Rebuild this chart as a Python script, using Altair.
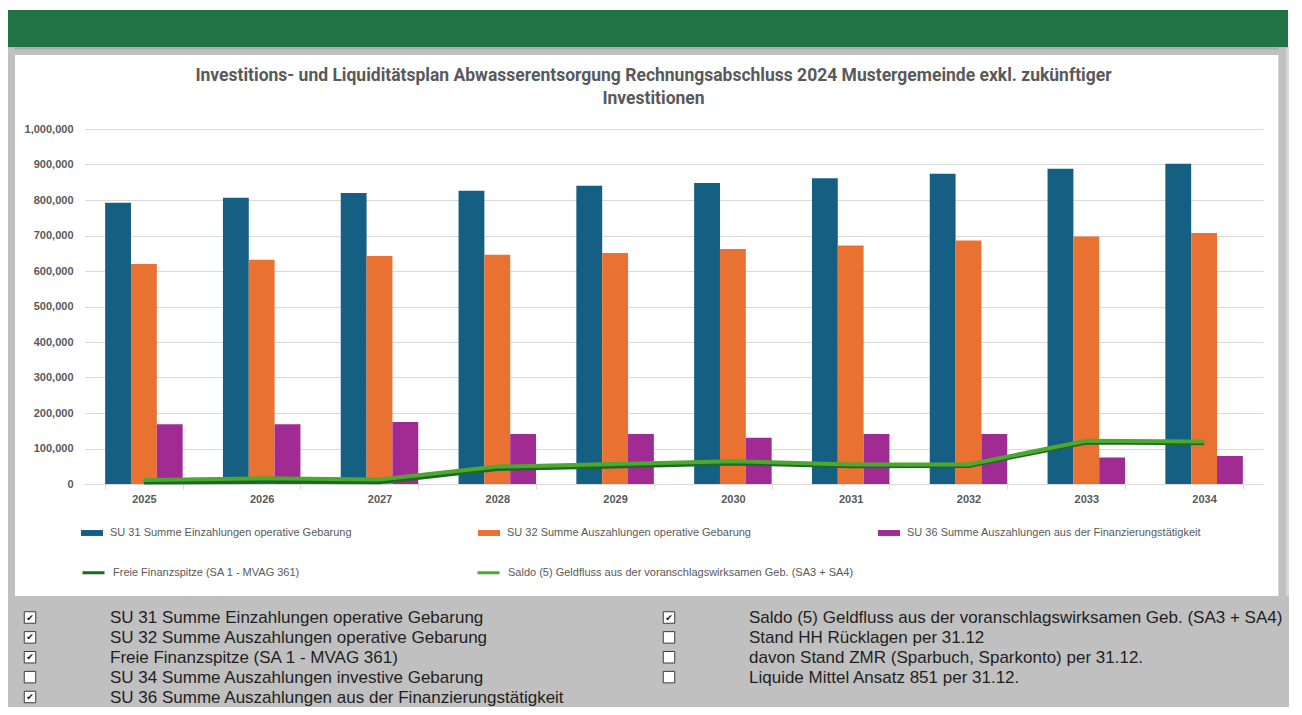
import altair as alt
import pandas as pd

# ---------------- data ----------------
years = ["2025", "2026", "2027", "2028", "2029", "2030", "2031", "2032", "2033", "2034"]
su31 = [792000, 806000, 820000, 826000, 840000, 848000, 861000, 874000, 888000, 902000]
su32 = [620000, 632000, 642000, 646000, 651000, 662000, 672000, 686000, 697000, 707000]
su36 = [168000, 168000, 175000, 141000, 141000, 130000, 141000, 141000, 75000, 79000]
freie_finanzspitze = [4000, 6000, 5000, 42000, 49000, 58000, 50000, 51000, 117000, 115000]
saldo = [11000, 16000, 13000, 49000, 56000, 64000, 55000, 55000, 122000, 120000]

bar_series = [
    "SU 31 Summe Einzahlungen operative Gebarung",
    "SU 32 Summe Auszahlungen operative Gebarung",
    "SU 36 Summe Auszahlungen aus der Finanzierungstätigkeit",
]
line_series = [
    "Freie Finanzspitze (SA 1 - MVAG 361)",
    "Saldo (5) Geldfluss aus der voranschlagswirksamen Geb. (SA3 + SA4)",
]
bar_colors = ["#156082", "#E97132", "#A02B93"]
line_colors = ["#196B24", "#4EA72E"]
y_ticks = [0, 100000, 200000, 300000, 400000, 500000, 600000, 700000, 800000, 900000, 1000000]

title_lines = [
    "Investitions- und Liquiditätsplan Abwasserentsorgung Rechnungsabschluss 2024 Mustergemeinde exkl. zukünftiger",
    "Investitionen",
]

checkbox_labels = [
    "SU 31 Summe Einzahlungen operative Gebarung",
    "SU 32 Summe Auszahlungen operative Gebarung",
    "Freie Finanzspitze (SA 1 - MVAG 361)",
    "SU 34 Summe Auszahlungen investive Gebarung",
    "SU 36 Summe Auszahlungen aus der Finanzierungstätigkeit",
    "Saldo (5) Geldfluss aus der voranschlagswirksamen Geb. (SA3 + SA4)",
    "Stand HH Rücklagen per 31.12",
    "davon Stand ZMR (Sparbuch, Sparkonto) per 31.12.",
    "Liquide Mittel Ansatz 851 per 31.12.",
]
checkbox_checked = [True, True, True, False, True, True, False, False, False]
checkbox_column = [0, 0, 0, 0, 0, 1, 1, 1, 1]
checkbox_row = [0, 1, 2, 3, 4, 0, 1, 2, 3]

# ---------------- tables ----------------
bars_df = pd.DataFrame({
    "Jahr": years * 3,
    "Reihe": [bar_series[0]] * 10 + [bar_series[1]] * 10 + [bar_series[2]] * 10,
    "Wert": su31 + su32 + su36,
})
lines_df = pd.DataFrame({
    "Jahr": years * 2,
    "Reihe": [line_series[0]] * 10 + [line_series[1]] * 10,
    "Wert": freie_finanzspitze + saldo,
})
cb_df = pd.DataFrame({
    "Label": checkbox_labels,
    "Aktiv": checkbox_checked,
    "Spalte": checkbox_column,
    "Zeile": checkbox_row,
})
one = pd.DataFrame({"k": [0]})

# ---------------- styling ----------------
TITLE_FONT = "Roboto"
ARIAL = "Liberation Sans, Arial, sans-serif"
GREY = "#595959"
OX, OY = 85, 129  # page position of plot origin

x_enc = alt.X(
    "Jahr:N", sort=years,
    scale=alt.Scale(paddingInner=0.342, paddingOuter=0.171),
    axis=alt.Axis(title=None, labelAngle=0, domainColor="#d9d9d9", tickColor="#d9d9d9",
                  tickSize=5, tickBand="extent", labelPadding=4, labelFont=ARIAL,
                  labelFontSize=11, labelFontWeight="bold", labelColor=GREY, grid=False),
)
y_enc = alt.Y(
    "Wert:Q",
    scale=alt.Scale(domain=[0, 1000000], nice=False),
    axis=alt.Axis(title=None, values=y_ticks, format=",.0f", grid=True, gridColor="#d9d9d9",
                  domain=False, ticks=False, labelPadding=12, labelFont=ARIAL,
                  labelFontSize=11, labelFontWeight="bold", labelColor=GREY),
)

bar_legend = alt.Legend(
    orient="none", legendX=-4, legendY=393, title=None, columns=3, columnPadding=126,
    gridAlign="each", symbolType="M-1,-0.27H1V0.27H-1Z", symbolSize=484, symbolStrokeWidth=0,
    labelOffset=7, labelLimit=500, labelFont=ARIAL, labelFontSize=11, labelColor=GREY,
)
line_legend = alt.Legend(
    orient="none", legendX=-4, legendY=431, title=None, columns=3, columnPadding=171,
    gridAlign="each", symbolType="stroke", symbolSize=484, symbolStrokeWidth=3,
    labelOffset=7, labelLimit=500, labelFont=ARIAL, labelFontSize=11, labelColor=GREY,
)

bars = alt.Chart(bars_df).mark_bar(strokeWidth=0).encode(
    x=x_enc,
    xOffset=alt.XOffset("Reihe:N", sort=bar_series),
    y=y_enc,
    fill=alt.Fill("Reihe:N", scale=alt.Scale(domain=bar_series, range=bar_colors), legend=bar_legend),
)

stroke_enc = alt.Stroke("Reihe:N", scale=alt.Scale(domain=line_series, range=line_colors), legend=line_legend)
line_dark = alt.Chart(lines_df).transform_filter(
    alt.datum.Reihe == line_series[0]
).mark_line(strokeWidth=4).encode(x=x_enc, y=y_enc, stroke=stroke_enc)
line_light = alt.Chart(lines_df).transform_filter(
    alt.datum.Reihe == line_series[1]
).mark_line(strokeWidth=4).encode(x=x_enc, y=y_enc, stroke=stroke_enc)

main = alt.layer(bars, line_dark, line_light)

# ---------------- frame decoration ----------------
BOTTOM = 707  # page y of the drawing's bottom edge


def deco(x1, x2, y1, y2, color):
    return alt.Chart(one).mark_rect(color=color, strokeWidth=0).encode(
        x=alt.value(x1 - OX), x2=alt.value(x2 - OX),
        y=alt.value(y1 - OY), y2=alt.value(y2 - OY),
    )


frame = [
    deco(8, 1288, 10, 47.5, "#217346"),
    deco(8, 1289, 47.5, 55, "#c0c0c0"),
    deco(8, 1289, 47.5, 49.5, "#a8a8a8"),
    deco(8, 15, 47.5, BOTTOM, "#c0c0c0"),
    deco(1278.3, 1286, 47.5, BOTTOM, "#c0c0c0"),
    deco(1286, 1289, 47.5, BOTTOM, "#d6d6d6"),
    deco(8, 1289, 596, BOTTOM, "#c0c0c0"),
]

title = alt.Chart(one).mark_text(
    align="center", baseline="alphabetic", font=TITLE_FONT, fontSize=17.5, fontWeight="bold",
    color=GREY, lineHeight=23,
).encode(x=alt.value(653.5 - OX), y=alt.value(81 - OY), text=alt.value(title_lines))

# ---------------- checkbox panel ----------------
cx = alt.X("Spalte:O", scale=alt.Scale(type="point", domain=[0, 1], range=[30 - OX, 669 - OX], padding=0), axis=None)
cy = alt.Y("Zeile:O", scale=alt.Scale(type="point", domain=[0, 1, 2, 3, 4], range=[617.5 - OY, 697 - OY], padding=0), axis=None)

squares = alt.Chart(cb_df).mark_square(
    size=132, filled=True, fill="white", fillOpacity=1, stroke="#3c3c3c", strokeWidth=1, opacity=1
).encode(x=cx, y=cy)
checks = alt.Chart(cb_df).transform_filter("datum.Aktiv").mark_text(
    text="✔", font="DejaVu Sans", fontSize=9, color="#111111", align="center", baseline="middle"
).encode(x=cx, y=cy)
cb_labels = alt.Chart(cb_df).mark_text(
    align="left", baseline="alphabetic", dx=80, dy=5.5, font=ARIAL, fontSize=17, color="#1f1f1f"
).encode(x=cx, y=cy, text="Label:N")
boxes = alt.layer(squares, checks, cb_labels)

chart = alt.layer(*frame, title, main, boxes).resolve_scale(
    x="independent", y="independent"
).properties(
    width=1178, height=355,
    padding={"left": 77, "top": 121, "right": 27, "bottom": 223},
    autosize=alt.AutoSizeParams(type="none"),
    background="white",
).configure_view(stroke=None)

chart.save("out.html", embed_options={"renderer": "svg", "actions": False})
